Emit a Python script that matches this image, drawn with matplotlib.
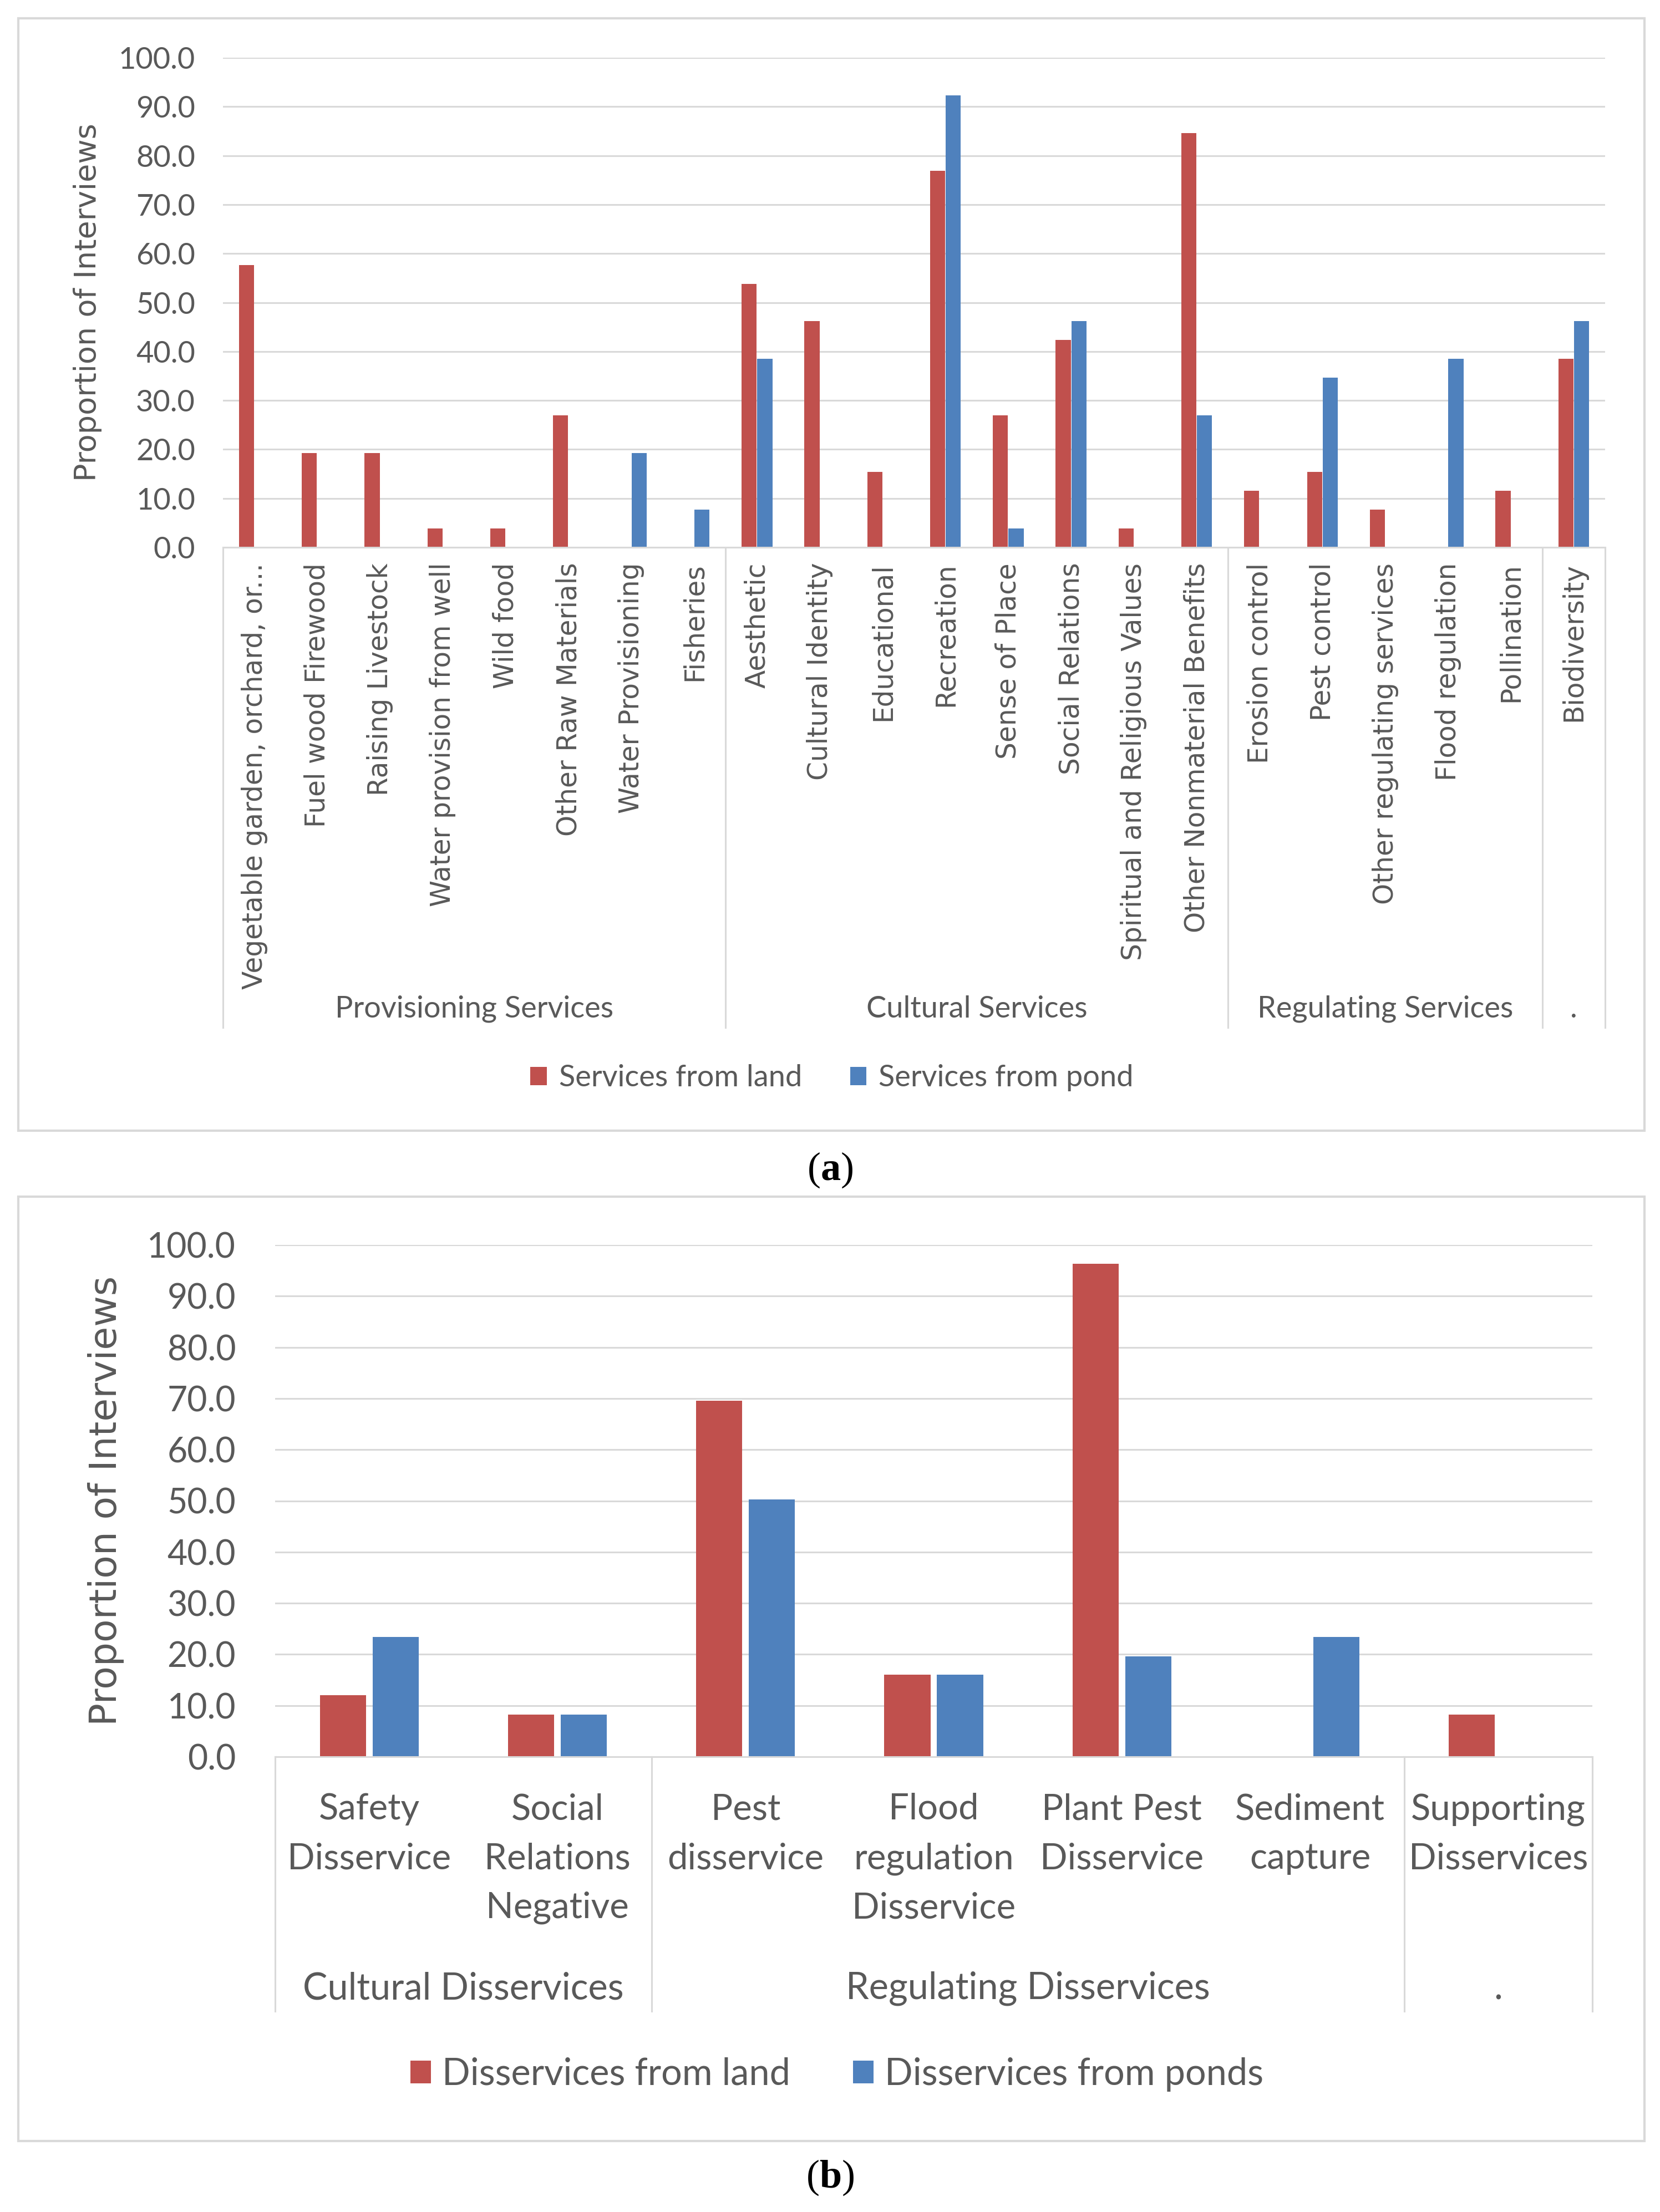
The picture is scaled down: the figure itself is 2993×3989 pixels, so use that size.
import matplotlib
matplotlib.use("Agg")
import matplotlib.pyplot as plt
import numpy as np
from matplotlib.patches import Rectangle
from matplotlib.ticker import FormatStrFormatter
from matplotlib.transforms import blended_transform_factory

# =========================
# Dados
# =========================
a_labels = [
    "Vegetable garden, orchard, or...", "Fuel wood Firewood", "Raising Livestock",
    "Water provision from well", "Wild food", "Other Raw Materials",
    "Water Provisioning", "Fisheries",
    "Aesthetic", "Cultural Identity", "Educational", "Recreation", "Sense of Place",
    "Social Relations", "Spiritual and Religious Values", "Other Nonmaterial Benefits",
    "Erosion control", "Pest control", "Other regulating services", "Flood regulation",
    "Pollination",
    "Biodiversity",
]
a_land = [57.7, 19.2, 19.2, 3.8, 3.8, 26.9, 0.0, 0.0,
          53.8, 46.2, 15.4, 76.9, 26.9, 42.3, 3.8, 84.6,
          11.5, 15.4, 7.7, 0.0, 11.5,
          38.5]
a_pond = [0.0, 0.0, 0.0, 0.0, 0.0, 0.0, 19.2, 7.7,
          38.5, 0.0, 0.0, 92.3, 3.8, 46.2, 0.0, 26.9,
          0.0, 34.6, 0.0, 38.5, 0.0,
          46.2]
a_groups = ["Provisioning Services", "Cultural Services", "Regulating Services", "."]
a_group_sizes = [8, 8, 5, 1]
a_series = ["Services from land", "Services from pond"]

b_labels = [
    "Safety\nDisservice", "Social\nRelations\nNegative",
    "Pest\ndisservice", "Flood\nregulation\nDisservice", "Plant Pest\nDisservice",
    "Sediment\ncapture",
    "Supporting\nDisservices",
]
b_land = [12.0, 8.2, 69.6, 16.0, 96.3, 0.0, 8.2]
b_pond = [23.4, 8.2, 50.3, 16.0, 19.6, 23.4, 0.0]
b_groups = ["Cultural Disservices", "Regulating Disservices", "."]
b_group_sizes = [2, 4, 1]
b_series = ["Disservices from land", "Disservices from ponds"]

y_ticks = np.arange(0, 101, 10)

# =========================
# Estilo
# =========================
W, H, DPI = 2993, 3989, 100
RED = "#C0504D"
BLUE = "#4F81BD"
GRID = "#D9D9D9"
TXT = "#595959"

plt.rcParams["mathtext.fontset"] = "custom"
plt.rcParams["mathtext.rm"] = "Liberation Serif"
plt.rcParams["mathtext.bf"] = "Liberation Serif:bold"


def px_rect(x0, y0, x1, y1):
    """Pixel box (top-left origin) -> figure fraction [l, b, w, h]."""
    return [x0 / W, 1 - y1 / H, (x1 - x0) / W, (y1 - y0) / H]


def frame(fig, x0, y0, x1, y1):
    l, b, w, h = px_rect(x0, y0, x1, y1)
    fig.add_artist(Rectangle((l, b), w, h, transform=fig.transFigure,
                             fill=False, ec=GRID, lw=3))


def draw_panel(ax, labels, land, pond, series, groups, sizes, *, bar_w, off,
               rot, fs_tick, fs_x, fs_group, xfont, xpad, ypad, sep_depth,
               group_y, lsp=1.15):
    x = np.arange(len(labels))
    ax.bar(x - off, land, bar_w, color=RED, label=series[0], zorder=2)
    ax.bar(x + off, pond, bar_w, color=BLUE, label=series[1], zorder=2)

    ax.set_xlim(-0.5, len(labels) - 0.5)
    ax.set_ylim(0, 100)
    ax.set_yticks(y_ticks)
    ax.yaxis.set_major_formatter(FormatStrFormatter("%.1f"))
    ax.yaxis.grid(True, color=GRID, lw=2.2)
    ax.set_axisbelow(True)
    for s in ("left", "right", "top"):
        ax.spines[s].set_visible(False)
    ax.spines["bottom"].set_color(GRID)
    ax.spines["bottom"].set_linewidth(2.2)

    ax.set_xticks(x)
    ax.set_xticklabels(labels, rotation=rot, ha="center", va="top",
                       family=xfont, fontsize=fs_x, color=TXT,
                       multialignment="center", linespacing=lsp)
    ax.tick_params(axis="x", length=0, pad=xpad)
    ax.tick_params(axis="y", length=0, pad=ypad, labelsize=fs_tick, labelcolor=TXT)
    for t in ax.get_yticklabels():
        t.set_family("Lato")

    # caixas dos grupos
    trans = blended_transform_factory(ax.transData, ax.transAxes)
    bounds = np.concatenate([[0], np.cumsum(sizes)]) - 0.5
    for b in bounds:
        ax.plot([b, b], [0, -sep_depth], transform=trans, clip_on=False,
                color=GRID, lw=2.2)
    for name, lo, hi in zip(groups, bounds[:-1], bounds[1:]):
        ax.text((lo + hi) / 2, -group_y, name, transform=trans, ha="center",
                va="center", family="Lato", fontsize=fs_group, color=TXT)


fig = plt.figure(figsize=(W / DPI, H / DPI), dpi=DPI)
fig.patch.set_facecolor("white")

# =========================
# (a)
# =========================
frame(fig, 33, 33, 2965, 2039)
ax_a = fig.add_axes(px_rect(402, 104, 2894, 987))
draw_panel(ax_a, a_labels, a_land, a_pond, a_series, a_groups, a_group_sizes,
           bar_w=0.24, off=0.125, rot=90, fs_tick=39, fs_x=35, fs_group=39,
           xfont="DejaVu Sans", xpad=20, ypad=36, sep_depth=0.981, group_y=0.943)
fig.text(158 / W, 1 - 545 / H, "Proportion of Interviews", rotation=90,
         ha="center", va="center", family="DejaVu Sans", fontsize=39, color=TXT)
ax_a.legend(loc="center", bbox_to_anchor=(1500 / W, 1 - 1944 / H),
            bbox_transform=fig.transFigure, ncol=2, frameon=False,
            prop={"family": "Lato", "size": 39}, labelcolor=TXT,
            handlelength=0.55, handleheight=0.55, handletextpad=0.4, columnspacing=1.6)
fig.text(1497 / W, 1 - 2110 / H, r"($\mathbf{a}$)", ha="center", va="center",
         family="Liberation Serif", fontsize=52, color="black")

# =========================
# (b)
# =========================
frame(fig, 33, 2158, 2965, 3861)
ax_b = fig.add_axes(px_rect(496, 2245, 2871, 3168))
draw_panel(ax_b, b_labels, b_land, b_pond, b_series, b_groups, b_group_sizes,
           bar_w=0.245, off=0.14, rot=0, fs_tick=45, fs_x=47, fs_group=48,
           xfont="Lato", xpad=47, ypad=51, sep_depth=0.497, group_y=0.453, lsp=1.62)
for t in ax_b.get_xticklabels():
    t.set_family("Lato")
fig.text(191 / W, 1 - 2706 / H, "Proportion of Interviews", rotation=90,
         ha="center", va="center", family="DejaVu Sans", fontsize=49, color=TXT)
ax_b.legend(loc="center", bbox_to_anchor=(1509 / W, 1 - 3741 / H),
            bbox_transform=fig.transFigure, ncol=2, frameon=False,
            prop={"family": "Lato", "size": 48}, labelcolor=TXT,
            handlelength=0.55, handleheight=0.55, handletextpad=0.3, columnspacing=1.7)
fig.text(1497 / W, 1 - 3927 / H, r"($\mathbf{b}$)", ha="center", va="center",
         family="Liberation Serif", fontsize=52, color="black")

fig.savefig("out.png", dpi=DPI, facecolor="white")
